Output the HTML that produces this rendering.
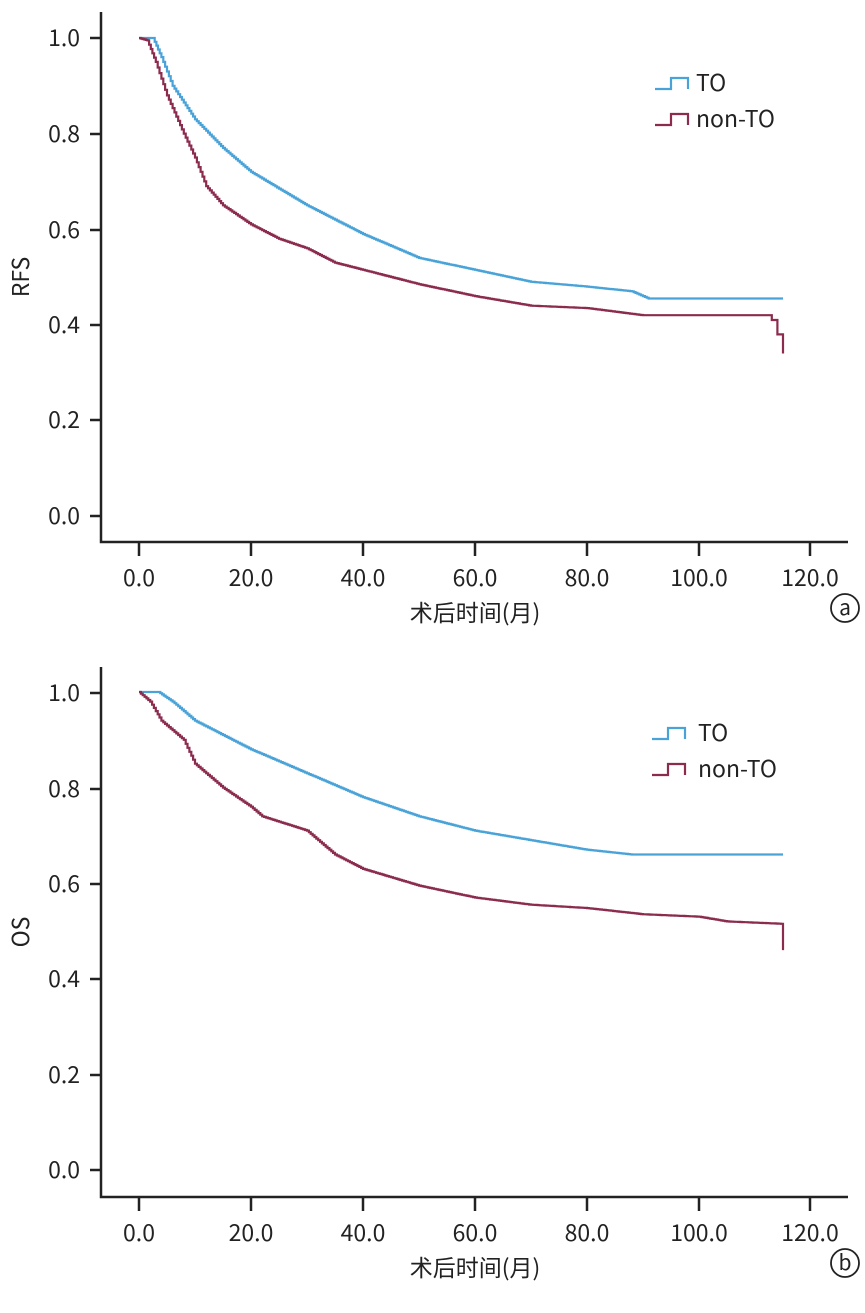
<!DOCTYPE html>
<html><head><meta charset="utf-8"><style>
body{margin:0;background:#fff}
svg text{font-family:"Noto Sans CJK SC","Liberation Sans",sans-serif;fill:#222}
</style></head><body>
<svg id="s" width="865" height="1308" xmlns="http://www.w3.org/2000/svg">
<g stroke="#222" stroke-width="2.5" fill="none">
<path d="M101,12V542H848"/>
<path d="M90,38H101M90,134H101M90,230H101M90,325H101M90,420H101M90,516H101"/>
<path d="M139,542V556M251,542V556M363,542V556M475,542V556M587,542V556M699,542V556M810,542V556"/>
<path d="M101,667V1197H848"/>
<path d="M90,693H101M90,789H101M90,884H101M90,979H101M90,1075H101M90,1170H101"/>
<path d="M139,1197V1211M251,1197V1211M363,1197V1211M475,1197V1211M587,1197V1211M699,1197V1211M810,1197V1211"/>
<circle cx="845" cy="608" r="14" stroke-width="1.8"/>
<circle cx="845" cy="1263" r="14" stroke-width="1.8"/>
</g>
<g font-size="23" text-anchor="end">
<text x="80" y="46">1.0</text><text x="80" y="142">0.8</text><text x="80" y="238">0.6</text><text x="80" y="333">0.4</text><text x="80" y="428">0.2</text><text x="80" y="524">0.0</text>
<text x="80" y="701">1.0</text><text x="80" y="797">0.8</text><text x="80" y="892">0.6</text><text x="80" y="987">0.4</text><text x="80" y="1083">0.2</text><text x="80" y="1178">0.0</text>
</g>
<g font-size="23" text-anchor="middle">
<text x="139" y="586">0.0</text><text x="251" y="586">20.0</text><text x="363" y="586">40.0</text><text x="475" y="586">60.0</text><text x="587" y="586">80.0</text><text x="699" y="586">100.0</text><text x="810" y="586">120.0</text>
<text x="139" y="1241">0.0</text><text x="251" y="1241">20.0</text><text x="363" y="1241">40.0</text><text x="475" y="1241">60.0</text><text x="587" y="1241">80.0</text><text x="699" y="1241">100.0</text><text x="810" y="1241">120.0</text>
<text x="475" y="621">术后时间(月)</text><text x="475" y="1276">术后时间(月)</text>
<text x="845" y="615" font-size="21">a</text><text x="845" y="1270" font-size="21">b</text>
<text transform="translate(29,277) rotate(-90)">RFS</text>
<text transform="translate(29,932) rotate(-90)">OS</text>
</g>
<g font-size="23">
<text x="696" y="91">TO</text><text x="696" y="127">non-TO</text>
<text x="698" y="741">TO</text><text x="698" y="777">non-TO</text>
</g>
<g fill="none" stroke-width="2.2">
<path stroke="#4aa3d8" d="M655,89H671V78H688V89"/>
<path stroke="#8b2b4e" d="M655,125H671V114H688V125"/>
<path stroke="#4aa3d8" d="M652,739H668V728H685V739"/>
<path stroke="#8b2b4e" d="M652,775H668V764H685V775"/>
</g>
<g id="curves" fill="none" stroke-width="2.2"></g>
</svg>
<script>
function step(pts,y0){
 var d="",px=function(m){return 139+m*5.6},py=function(v){return y0-v*478};
 d="M"+px(pts[0][0])+","+py(pts[0][1]);
 for(var i=1;i<pts.length;i++){
  var a=pts[i-1],b=pts[i],n=Math.max(1,Math.round((b[0]-a[0])*3));
  if(b[0]==a[0]){d+="V"+py(b[1]).toFixed(1);continue;}
  for(var k=1;k<=n;k++){var m=a[0]+(b[0]-a[0])*k/n,v=a[1]+(b[1]-a[1])*k/n;
   d+="H"+px(m).toFixed(1)+"V"+py(v).toFixed(1);}
 }
 return d;
}
var C=[
["#4aa3d8",516,[[0,1],[2.5,1],[4,0.96],[6,0.9],[10,0.83],[15,0.77],[20,0.72],[30,0.65],[40,0.59],[50,0.54],[60,0.515],[70,0.49],[80,0.48],[88,0.47],[91,0.455],[115,0.455]]],
["#8b2b4e",516,[[0,1],[1.5,0.995],[3,0.95],[5,0.88],[8,0.8],[10,0.75],[12,0.69],[15,0.65],[20,0.61],[25,0.58],[30,0.56],[35,0.53],[40,0.515],[50,0.485],[60,0.46],[70,0.44],[80,0.435],[90,0.42],[113,0.42],[113,0.41],[114,0.41],[114,0.38],[115,0.38],[115,0.34]]],
["#4aa3d8",1170,[[0,1],[3.5,1],[6,0.98],[10,0.94],[20,0.88],[30,0.83],[40,0.78],[50,0.74],[60,0.71],[70,0.69],[75,0.68],[80,0.67],[88,0.66],[115,0.66]]],
["#8b2b4e",1170,[[0,1],[2,0.98],[4,0.94],[8,0.9],[10,0.85],[15,0.8],[20,0.76],[22,0.74],[30,0.71],[35,0.66],[40,0.63],[50,0.595],[60,0.57],[70,0.555],[80,0.548],[90,0.535],[100,0.53],[105,0.52],[115,0.515],[115,0.46]]]];
var g=document.getElementById("curves");
C.forEach(function(c){var p=document.createElementNS("http://www.w3.org/2000/svg","path");p.setAttribute("stroke",c[0]);p.setAttribute("d",step(c[2],c[1]));g.appendChild(p);});
</script>
</body></html>
